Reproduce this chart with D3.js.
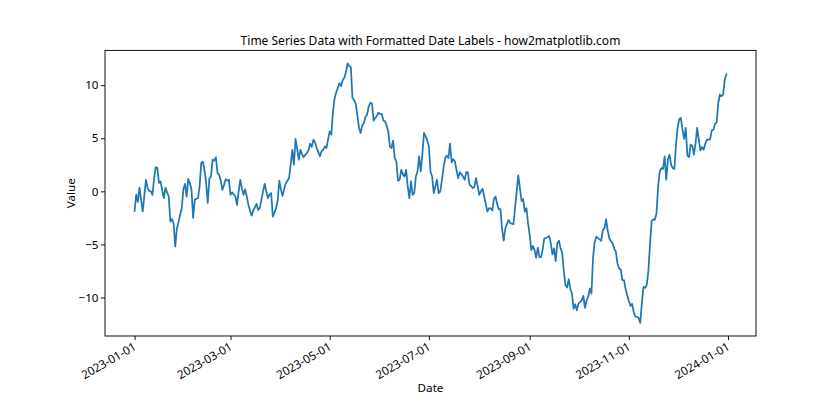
<!DOCTYPE html>
<html><head><meta charset="utf-8">
<script src="https://cdn.jsdelivr.net/npm/d3@7"></script>
<style>body{margin:0;background:#fff}svg{display:block}text{font-family:"Noto Sans",sans-serif;fill:#000}</style>
</head><body><svg id="c" width="840" height="420"></svg>
<script>
const title = "Time Series Data with Formatted Date Labels - how2matplotlib.com";
const xLabel = "Date";
const yLabel = "Value";
const startDate = "2023-01-01";
const xTickLabels = ["2023-01-01","2023-03-01","2023-05-01","2023-07-01","2023-09-01","2023-11-01","2024-01-01"];
const yTicks = [-10,-5,0,5,10];
const values = [
-1.84,-0.3,-1.0,0.36,-0.8,-1.9,-0.4,1.09,0.3,0.05,
0.0,-0.33,1.2,2.29,2.19,0.8,0.93,0.1,-0.64,0.36,
-0.1,-0.49,-2.85,-2.6,-3.0,-5.2,-3.5,-2.9,-2.2,-1.6,
0.2,0.7,-0.5,1.18,0.77,0.2,-2.5,-0.8,-0.7,-0.65,
0.5,2.7,2.8,2.0,0.8,-1.1,1.2,1.4,2.98,2.9,
3.2,1.72,1.56,1.0,0.14,0.6,1.15,1.0,1.09,-0.33,
-0.1,-0.3,-0.49,-1.28,0.0,1.09,0.3,-0.33,0.2,-0.5,
-1.28,-1.8,-2.29,-1.8,-1.5,-1.18,-1.75,-1.59,-0.8,0.0,
0.71,0.0,-0.65,-0.3,-0.17,-2.38,-2.0,-1.59,-0.9,1.0,
0.2,-0.43,0.2,0.77,1.0,1.25,2.5,3.9,2.5,4.93,
4.0,2.98,3.9,3.5,3.2,3.45,3.6,3.9,4.5,4.2,
4.87,4.6,4.08,3.7,3.3,3.8,3.9,4.23,4.08,4.9,
5.65,5.34,7.5,8.74,9.3,9.75,10.2,9.9,10.47,10.7,
11.23,12.05,11.8,11.7,8.8,8.6,8.24,7.2,6.0,5.5,
6.2,6.45,7.0,7.23,8.0,8.34,8.27,6.66,6.9,7.1,
7.4,7.3,7.3,6.66,6.6,6.2,5.65,4.23,4.08,4.77,
3.14,2.8,0.99,1.09,2.03,1.6,1.4,2.03,0.45,-0.65,
0.93,-0.33,-0.17,1.4,1.87,3.29,1.87,3.5,5.5,5.18,
4.8,4.23,1.87,1.4,-0.17,0.5,1.09,-0.17,-0.02,1.0,
2.2,3.14,3.36,3.14,4.49,2.72,3.04,2.82,2.0,1.25,
1.78,1.62,1.4,1.09,1.81,1.78,0.61,0.5,0.3,0.45,
1.25,0.5,-0.33,0.0,0.24,-0.49,-1.2,-1.9,-1.59,-1.6,
-1.81,-0.74,-0.49,-1.2,-1.68,-1.68,-3.5,-4.65,-3.5,-3.1,
-2.69,-3.0,-3.05,-3.1,-1.59,0.0,1.5,0.3,-0.9,-0.74,
-1.9,-1.59,-3.0,-4.1,-5.53,-5.15,-5.53,-6.25,-5.3,-6.2,
-6.2,-5.47,-4.43,-4.4,-4.33,-4.2,-4.9,-5.94,-5.37,-6.57,
-4.9,-4.65,-5.37,-5.8,-7.5,-8.84,-9.06,-8.27,-9.2,-9.62,
-11.04,-10.63,-11.2,-10.57,-10.4,-10.26,-9.85,-10.98,-10.26,-9.9,
-9.15,-9.62,-6.16,-4.74,-4.27,-4.4,-4.52,-4.65,-3.64,-3.48,
-2.63,-3.7,-4.42,-4.7,-4.9,-5.37,-5.69,-6.79,-7.26,-7.35,
-8.36,-8.36,-9.2,-9.78,-10.32,-10.8,-10.6,-11.4,-11.8,-11.83,
-11.9,-12.4,-10.5,-9.0,-9.09,-8.8,-7.5,-5.0,-2.8,-2.63,
-2.69,-2.06,0.45,1.87,2.19,2.1,3.29,1.09,3.0,3.45,
2.5,2.19,2.1,4.4,5.97,6.82,6.92,5.81,4.93,5.97,
3.36,3.23,4.4,4.3,3.45,4.5,5.97,4.87,3.86,4.17,
3.92,4.49,4.87,4.87,4.9,5.75,5.81,6.35,6.5,8.34,
9.12,8.96,9.12,10.54,11.01
];

const svg = d3.select("#c");
const L = 105, R = 756, T = 50.4, B = 336;
const t0 = new Date(startDate + "T00:00:00Z");
const DAY = 86400000;
const data = values.map((v, i) => ({d: new Date(t0.getTime() + i * DAY), v}));
const ext = d3.extent(data, d => d.d.getTime());
const xpad = (ext[1] - ext[0]) * 0.05;
const x = d3.scaleUtc().domain([new Date(ext[0] - xpad), new Date(ext[1] + xpad)]).range([L, R]);
const ye = d3.extent(values);
const ypad = (ye[1] - ye[0]) * 0.05;
const y = d3.scaleLinear().domain([ye[0] - ypad, ye[1] + ypad]).range([B, T]);

const fmt = d3.utcFormat("%Y-%m-%d");
const xTicks = xTickLabels.map(s => new Date(s + "T00:00:00Z"));

// line
svg.append("path").datum(data)
  .attr("d", d3.line().x(d => x(d.d)).y(d => y(d.v)))
  .attr("fill", "none").attr("stroke", "#1f77b4").attr("stroke-width", 1.75)
  .attr("stroke-linejoin", "round").attr("stroke-linecap", "square");

// x axis
const xa = svg.append("g").attr("transform", `translate(0,${B})`)
  .call(d3.axisBottom(x).tickValues(xTicks).tickSize(4.1).tickFormat(fmt));
xa.select(".domain").remove();
xa.selectAll(".tick line").attr("stroke", "#000").attr("stroke-width", 0.93);
xa.selectAll(".tick text")
  .attr("font-size", 11.67).attr("font-family", "Noto Sans, sans-serif").attr("fill", "#000")
  .attr("text-anchor", "end").attr("dy", null).attr("y", 0)
  .attr("transform", "translate(2,13) rotate(-30)");

// y axis
const ya = svg.append("g").attr("transform", `translate(${L},0)`)
  .call(d3.axisLeft(y).tickValues(yTicks).tickSize(4.1).tickFormat(d => d < 0 ? "\u2212" + Math.abs(d) : d));
ya.select(".domain").remove();
ya.selectAll(".tick line").attr("stroke", "#000").attr("stroke-width", 0.93);
ya.selectAll(".tick text").attr("font-size", 11.67).attr("font-family", "Noto Sans, sans-serif").attr("fill", "#000").attr("x", -6.5);

// frame
svg.append("rect").attr("x", L).attr("y", T).attr("width", R - L).attr("height", B - T)
  .attr("fill", "none").attr("stroke", "#000").attr("stroke-width", 0.93);

const tt = svg.append("text").attr("x", (L + R) / 2).attr("y", 45).attr("text-anchor", "middle")
  .attr("font-size", 14).text(title);
const tl = tt.node().getComputedTextLength();
if (tl > 380) tt.attr("font-size", 14 * 380 / tl);
svg.append("text").attr("x", (L + R) / 2).attr("y", 392).attr("text-anchor", "middle")
  .attr("font-size", 11.67).text(xLabel);
svg.append("text").attr("transform", `translate(75,${(T + B) / 2}) rotate(-90)`).attr("text-anchor", "middle")
  .attr("font-size", 11.67).text(yLabel);
</script></body></html>
